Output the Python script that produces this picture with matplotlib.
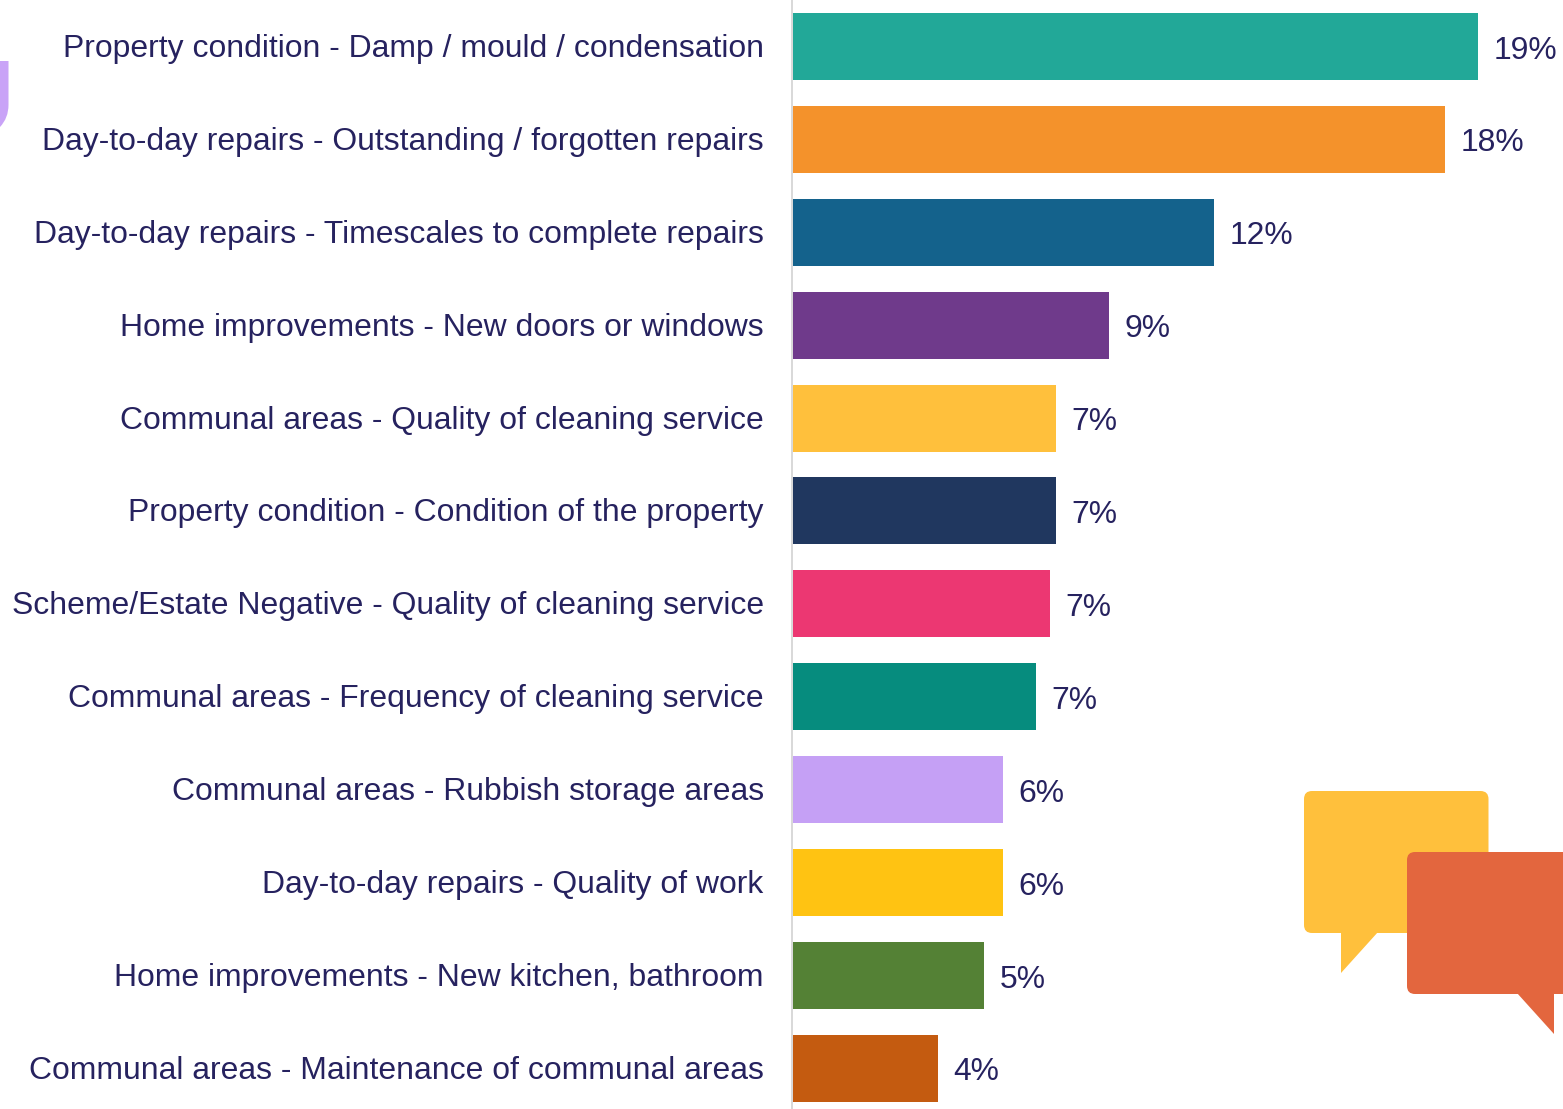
import matplotlib
matplotlib.use("Agg")
import matplotlib.pyplot as plt
from matplotlib.patches import FancyBboxPatch, Polygon, PathPatch
from matplotlib.path import Path
from matplotlib.transforms import ScaledTranslation

categories = [
    "Property condition - Damp / mould / condensation",
    "Day-to-day repairs - Outstanding / forgotten repairs",
    "Day-to-day repairs - Timescales to complete repairs",
    "Home improvements - New doors or windows",
    "Communal areas - Quality of cleaning service",
    "Property condition - Condition of the property",
    "Scheme/Estate Negative - Quality of cleaning service",
    "Communal areas - Frequency of cleaning service",
    "Communal areas - Rubbish storage areas",
    "Day-to-day repairs - Quality of work",
    "Home improvements - New kitchen, bathroom",
    "Communal areas - Maintenance of communal areas",
]
values = [18.9, 17.98, 11.62, 8.73, 7.27, 7.27, 7.1, 6.72, 5.81, 5.81, 5.29, 4.02]
value_labels = ["19%", "18%", "12%", "9%", "7%", "7%", "7%", "7%", "6%", "6%", "5%", "4%"]
colors = ["#22A898", "#F4922B", "#14628C", "#6F3A8B", "#FFC03C", "#20375F",
          "#EC3772", "#068C7E", "#C5A0F5", "#FFC312", "#548135", "#C45B10"]

W, H = 1563, 1109
TEXT = "#26225F"
FS = 22.95
plt.rcParams["font.family"] = ["Liberation Sans", "DejaVu Sans"]

fig = plt.figure(figsize=(W / 100, H / 100), dpi=100, facecolor="white")

# Decorative layer in pixel coordinates
deco = fig.add_axes([0, 0, 1, 1], zorder=0)
deco.set_xlim(0, W)
deco.set_ylim(H, 0)
deco.axis("off")
YEL, ORG, PUR = "#FFC03C", "#E3663E", "#C9A3F7"
deco.add_patch(FancyBboxPatch((1304, 791), 184.5, 142, boxstyle="round,pad=0,rounding_size=8",
                              fc=YEL, ec="none"))
deco.add_patch(Polygon([(1341, 932), (1341, 973), (1378, 932)], closed=True, fc=YEL, ec="none"))
deco.add_patch(FancyBboxPatch((1407, 852), 190, 142, boxstyle="round,pad=0,rounding_size=8",
                              fc=ORG, ec="none", zorder=3))
deco.add_patch(Polygon([(1517, 993), (1554, 1034), (1554, 993)], closed=True, fc=ORG, ec="none", zorder=3))
deco.add_patch(PathPatch(Path([(0, 61), (8.5, 61), (8.5, 105), (8.5, 118), (0, 127), (0, 61)],
                              [Path.MOVETO, Path.LINETO, Path.LINETO, Path.CURVE3, Path.CURVE3, Path.CLOSEPOLY]),
                         fc=PUR, ec="none"))

# Chart
X0 = 792
ax = fig.add_axes([X0 / W, 0, (W - X0) / W, 1], zorder=1)
ax.patch.set_alpha(0)
step = 92.9
ax.set_xlim(0, (W - X0) / 36.3)
ax.set_ylim((H - 46.4) / step, -46.4 / step)
y = list(range(len(categories)))
ax.barh(y, values, height=67 / step, color=colors)
for yi, v, lab in zip(y, values, value_labels):
    ax.annotate(lab, (v, yi), xytext=(11.2, -3.0), textcoords="offset points",
                ha="left", va="center", fontsize=FS, color=TEXT)
ax.set_yticks(y, categories, fontsize=FS, color=TEXT)
ax.tick_params(axis="y", length=0, pad=20.4)
shift = ScaledTranslation(0, 0.7 / 72, fig.dpi_scale_trans)
for lab in ax.get_yticklabels():
    lab.set_transform(lab.get_transform() + shift)
ax.set_xticks([])
for s in ("top", "right", "bottom"):
    ax.spines[s].set_visible(False)
ax.spines["left"].set_color("#D9D9D9")
ax.spines["left"].set_linewidth(1.44)

fig.savefig("out.png", dpi=100)
